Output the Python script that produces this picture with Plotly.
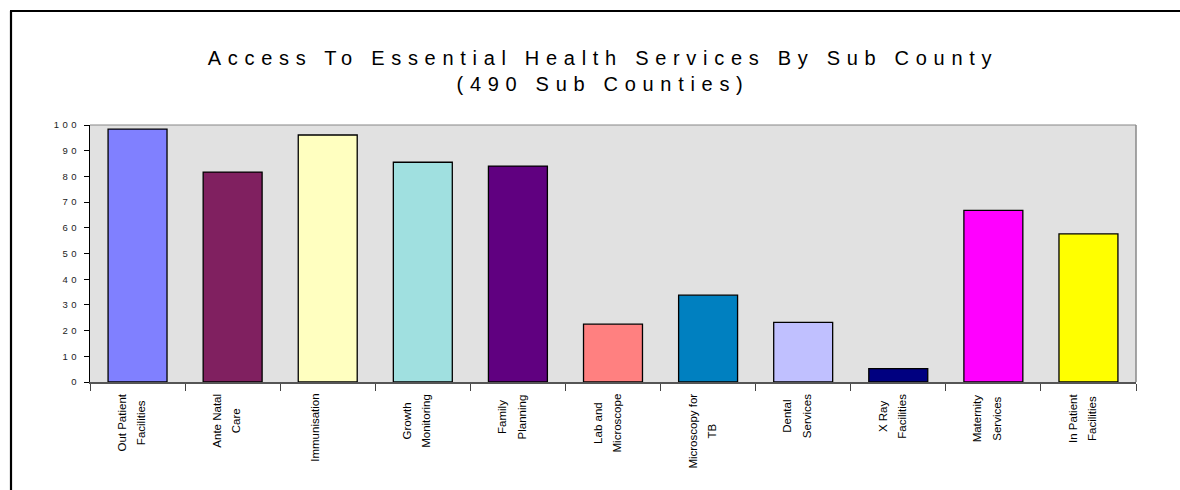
import plotly.graph_objects as go

categories = ["Out Patient<br>Facilities", "Ante Natal<br>Care", "Immunisation",
              "Growth<br>Monitoring", "Family<br>Planning", "Lab and<br>Microscope",
              "Microscopy for<br>TB", "Dental<br>Services", "X Ray<br>Facilities",
              "Maternity<br>Services", "In Patient<br>Facilities"]
values = [98.4, 81.7, 96.1, 85.5, 84.0, 22.5, 33.8, 23.2, 5.2, 66.8, 57.6]
colors = ["#8080FF", "#802060", "#FFFFC0", "#A0E0E0", "#600080", "#FF8080",
          "#0080C0", "#C0C0FF", "#000080", "#FF00FF", "#FFFF00"]
ytick_vals = list(range(0, 101, 10))

FONT = "Arial, Liberation Sans, sans-serif"
ML, MR, MT, MB = 90, 44, 125, 108
W, H = 1180, 490
PW, PH = W - ML - MR, H - MT - MB

fig = go.Figure()
fig.add_trace(go.Bar(
    x=list(range(len(categories))), y=values,
    marker=dict(color=colors, line=dict(color="black", width=1.3)),
    width=0.62, hoverinfo="skip", showlegend=False,
))

annotations = []
for i, c in enumerate(categories):
    parts = c.split("<br>")
    styled = "<br>".join('<span style="font-size:11.5px">%s</span>' % part
                         for part in parts)
    annotations.append(dict(
        x=i, y=0, xref="x", yref="paper", text=styled, showarrow=False,
        textangle=-90, align="center", xanchor="center", yanchor="top",
        xshift=-6 if len(parts) > 1 else -13, yshift=-10,
        font=dict(family=FONT, size=15, color="black"),
    ))


def px_x(p):
    return (p - ML) / PW


def px_y(p):
    return 1 - (p - MT) / PH


shapes = [
    # outer frame (left and top)
    dict(type="line", xref="paper", yref="paper", x0=px_x(11), x1=px_x(11),
         y0=px_y(11), y1=px_y(500), line=dict(color="black", width=2.2)),
    dict(type="line", xref="paper", yref="paper", x0=px_x(10), x1=px_x(1190),
         y0=px_y(11), y1=px_y(11), line=dict(color="black", width=2.2)),
    # plot area border top and right
    dict(type="line", xref="paper", yref="paper", x0=0, x1=1, y0=1, y1=1,
         line=dict(color="#888888", width=1.2)),
    dict(type="line", xref="paper", yref="paper", x0=1, x1=1, y0=0, y1=1,
         line=dict(color="#888888", width=1.5)),
]

fig.update_layout(
    width=W, height=H,
    margin=dict(l=ML, r=MR, t=MT, b=MB, pad=0),
    paper_bgcolor="white", plot_bgcolor="#E1E1E1",
    title=dict(text="Access To Essential Health Services By Sub County<br>(490 Sub Counties)",
               x=603 / W, xref="container", xanchor="center",
               y=1 - 65 / H, yref="container", yanchor="middle",
               font=dict(family=FONT, size=20, color="black")),
    xaxis=dict(range=[-0.5, len(categories) - 0.5], showticklabels=False,
               tickmode="array", tickvals=[i - 0.5 for i in range(len(categories) + 1)],
               ticks="outside", ticklen=7, tickcolor="#444", tickwidth=1,
               showline=True, linecolor="#555555", linewidth=1.5,
               showgrid=False, zeroline=False, fixedrange=True),
    yaxis=dict(range=[0, 100], tickmode="array", tickvals=ytick_vals,
               ticks="outside", ticklen=5, tickcolor="black", tickwidth=1,
               showline=True, linecolor="black", linewidth=1.2,
               showgrid=False, zeroline=False,
               tickfont=dict(family=FONT, size=9.5, color="#222"),
               ticklabelstandoff=2, fixedrange=True),
    annotations=annotations,
    shapes=shapes,
)

post = """
var gd = document.getElementById('{plot_id}');
function spacing(){
  gd.querySelectorAll('.gtitle').forEach(function(e){ e.style.letterSpacing = '6.7px'; });
  gd.querySelectorAll('.ytick text').forEach(function(e){ e.style.letterSpacing = '3.5px'; });
}
spacing();
if (gd.on) { gd.on('plotly_afterplot', spacing); }
setTimeout(spacing, 50);
"""

fig.write_html("out.html", post_script=post, config={"displayModeBar": False})
